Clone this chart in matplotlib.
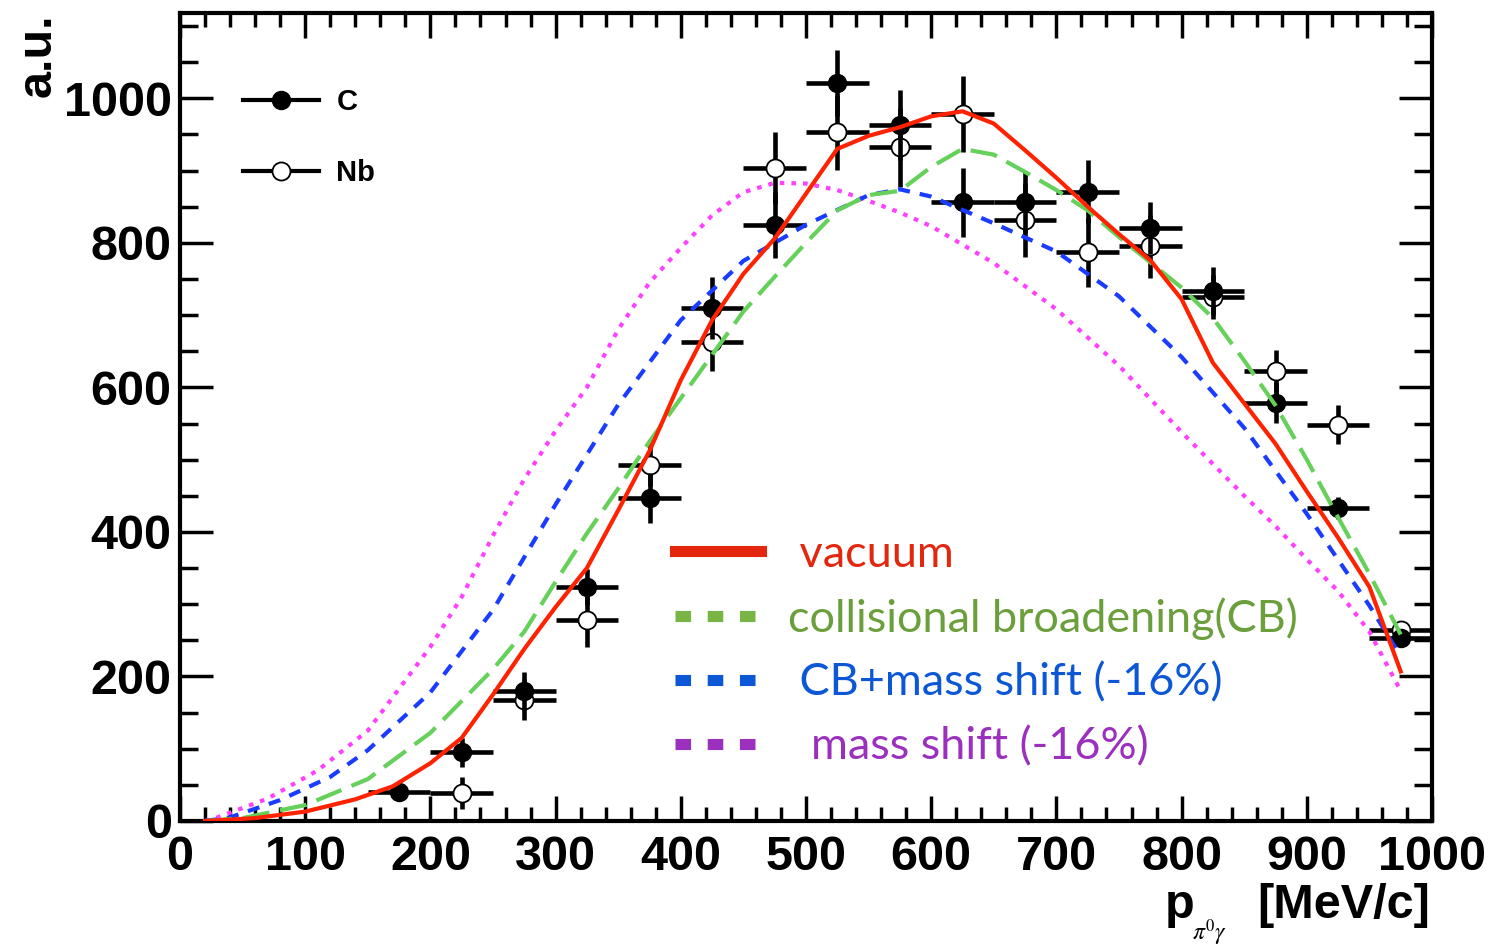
import matplotlib
matplotlib.use('Agg')
import matplotlib.pyplot as plt
from matplotlib.lines import Line2D
from matplotlib.ticker import MultipleLocator

# measured points, bin centres in MeV/c (bin width 50)
c_x = [175, 225, 275, 325, 375, 425, 475, 525, 575, 625, 675, 725, 775, 825, 875, 925, 975]
c_y = [40, 95, 180, 324, 447, 710, 825, 1021, 963, 856, 856, 871, 821, 733, 579, 433, 253]
c_err = [10, 20, 26, 25, 34, 43, 46, 46, 48, 48, 43, 44, 36, 33, 28, 15, 12]

nb_x = [225, 275, 325, 375, 425, 475, 525, 575, 625, 675, 725, 775, 825, 875, 925, 975]
nb_y = [39, 168, 278, 493, 663, 904, 953, 932, 978, 832, 787, 795, 725, 622, 548, 264]
nb_err = [22, 28, 37, 30, 41, 50, 52, 55, 53, 51, 48, 43, 30, 30, 27, 12]
bin_half = 25

# model curves
vac_x = [20, 60, 100, 140, 170, 200, 225, 250, 275, 300, 325, 350, 375, 400, 425, 450, 475, 500,
         525, 550, 575, 600, 625, 650, 675, 700, 725, 750, 775, 800, 825, 850, 875, 900, 925, 950, 975]
vac_y = [0, 4, 13, 30, 48, 80, 115, 175, 238, 296, 350, 430, 512, 610, 693, 757, 806, 868,
         930, 948, 960, 975, 982, 965, 928, 890, 850, 812, 776, 722, 634, 578, 522, 456, 392, 324, 207]

cb_x = [20, 50, 100, 150, 200, 250, 275, 300, 325, 350, 375, 400, 425, 450, 475, 500, 525, 550,
        575, 600, 625, 650, 675, 700, 725, 750, 775, 800, 825, 850, 875, 900, 925, 950, 975]
cb_y = [0, 4, 22, 58, 122, 210, 262, 331, 398, 460, 525, 585, 645, 705, 753, 800, 845, 866,
        872, 905, 930, 922, 898, 873, 845, 808, 773, 738, 696, 637, 575, 500, 420, 342, 258]

cbms_x = [20, 40, 80, 120, 150, 200, 250, 300, 350, 400, 450, 500, 550, 575, 600, 650, 700,
          750, 800, 850, 900, 950, 975]
cbms_y = [0, 5, 29, 61, 98, 178, 292, 438, 576, 693, 775, 825, 866, 874, 864, 827, 788,
          726, 642, 544, 425, 298, 228]

ms_x = [20, 30, 70, 110, 150, 200, 225, 250, 275, 300, 325, 350, 375, 400, 425, 450, 475, 500,
        525, 550, 575, 600, 650, 700, 750, 800, 825, 850, 875, 900, 925, 950, 975]
ms_y = [0, 5, 31, 70, 125, 241, 310, 395, 473, 540, 600, 680, 745, 793, 838, 870, 883, 882,
        873, 858, 842, 823, 772, 708, 630, 538, 494, 450, 408, 362, 318, 262, 180]

W, H = 1501, 949
plt.rcParams['font.family'] = 'Liberation Sans'
fig = plt.figure(figsize=(W / 100, H / 100), dpi=100)
ax = fig.add_axes([180 / W, 128 / H, 1252 / W, 808 / H])

ax.errorbar(nb_x, nb_y, xerr=bin_half, yerr=nb_err, fmt='o', color='k', mfc='white', mec='k',
            mew=1.3, ms=13, elinewidth=3.3, capsize=0, zorder=2)
ax.errorbar(c_x, c_y, xerr=bin_half, yerr=c_err, fmt='o', color='k', ms=13,
            elinewidth=3.3, capsize=0, zorder=2.5)

ax.plot(ms_x, ms_y, color='#ff40ff', lw=3.0, ls=(0, (1.1, 1.7)), zorder=3)
ax.plot(cbms_x, cbms_y, color='#1a3cff', lw=3.0, ls=(0, (2.9, 2.4)), zorder=3)
ax.plot(cb_x, cb_y, color='#66d15a', lw=3.0, ls=(0, (6.5, 2.6)), zorder=3)
ax.plot(vac_x, vac_y, color='#ff2200', lw=3.0, zorder=3.5)

ax.set_xlim(0, 1000)
ax.set_ylim(0, 1118)
ax.xaxis.set_major_locator(MultipleLocator(100))
ax.xaxis.set_minor_locator(MultipleLocator(20))
ax.yaxis.set_major_locator(MultipleLocator(200))
ax.yaxis.set_minor_locator(MultipleLocator(50))
ax.tick_params(which='both', direction='in', top=True, right=True, width=2.5, labelsize=35)
ax.tick_params(axis='y', which='major', length=24, pad=6)
ax.tick_params(axis='y', which='minor', length=13)
ax.tick_params(axis='x', which='major', length=18, pad=10)
ax.tick_params(axis='x', which='minor', length=10)
for lab in ax.get_xticklabels() + ax.get_yticklabels():
    lab.set_fontweight('bold')
for sp in ax.spines.values():
    sp.set_linewidth(3)

ax.set_ylabel('a.u.', fontsize=35, fontweight='bold', loc='top')
ax.yaxis.set_label_coords(-0.113, 1.0)
ax.yaxis.label.set_verticalalignment('center')

# x axis title, ROOT style at lower right
fig.text(1430 / W, (H - 918) / H, '[MeV/c]', fontsize=35, fontweight='bold', ha='right', va='baseline')
fig.text(1165 / W, (H - 918) / H, 'p', fontsize=35, fontweight='bold', ha='left', va='baseline')
fig.text(1192 / W, (H - 940) / H, r'$\pi^{0}\gamma$', fontsize=17, ha='left', va='baseline',
         math_fontfamily='stix')

# data legend
h_data = [Line2D([], [], color='k', lw=3.0, marker='o', ms=13),
          Line2D([], [], color='k', lw=3.0, marker='o', ms=13, mfc='white', mew=1.3)]
leg1 = ax.legend(h_data, ['C', 'Nb'], loc='upper left', bbox_to_anchor=(243 / W, (H - 88) / H),
                 bbox_transform=fig.transFigure, frameon=False, numpoints=1,
                 prop={'family': 'Liberation Sans', 'weight': 'bold', 'size': 21},
                 handlelength=2.6, handletextpad=0.6, labelspacing=1.47,
                 borderpad=0, borderaxespad=0)
ax.add_artist(leg1)

# model legend (coloured labels)
col_vac = '#e3260e'
col_cb = '#6a9f3c'
col_cbms = '#0b57d6'
col_ms = '#9a30bd'
h_mod = [Line2D([], [], color=col_vac, lw=8),
         Line2D([], [], color='#78b545', lw=8, ls=(0, (1.4, 1.5))),
         Line2D([], [], color=col_cbms, lw=8, ls=(0, (1.4, 1.5))),
         Line2D([], [], color=col_ms, lw=8, ls=(0, (1.4, 1.5)))]
lab_mod = [' vacuum', 'collisional broadening(CB)', ' CB+mass shift (-16%)', '  mass shift (-16%)']
ax.legend(h_mod, lab_mod, loc='upper left', bbox_to_anchor=(675 / W, (H - 534) / H),
          bbox_transform=fig.transFigure, frameon=False,
          prop={'family': 'Lato', 'size': 32.4},
          labelcolor=[col_vac, col_cb, col_cbms, col_ms],
          handlelength=1.9, handletextpad=0.6, labelspacing=0.5,
          borderpad=0, borderaxespad=0)

fig.savefig('out.png', dpi=100)
